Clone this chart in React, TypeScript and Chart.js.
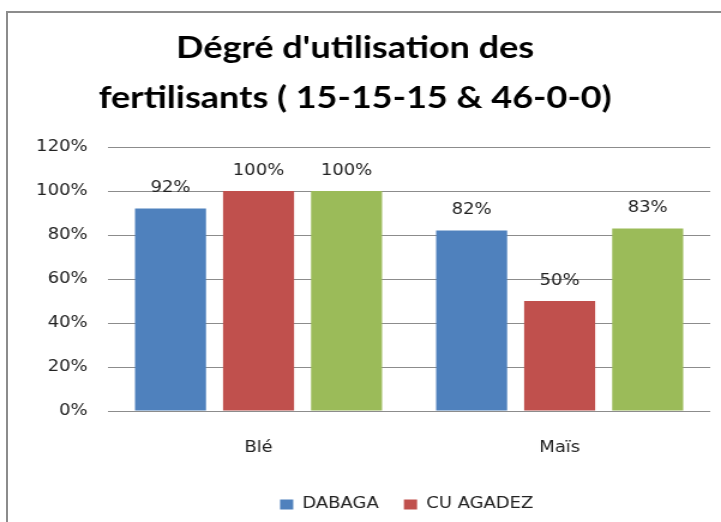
import React, { useEffect, useRef } from "react";
import { Chart, registerables } from "chart.js";

Chart.register(...registerables);

const titleLines = ["Dégré d'utilisation des", "fertilisants ( 15-15-15 & 46-0-0)"];
const categories = ["Blé", "Maïs"];
const seriesNames = ["DABAGA", "CU AGADEZ", ""];
const dabagaValues = [92, 82];
const cuAgadezValues = [100, 50];
const thirdValues = [100, 83];
const seriesColors = ["#4F81BD", "#C0504D", "#9BBB59"];
const yMin = 0;
const yMax = 120;
const yStep = 20;

const INTERNAL_W = 601;
const INTERNAL_H = 522;
const STRETCH = 721 / INTERNAL_W;

const valueLabels = {
  id: "valueLabels",
  afterDatasetsDraw(chart: any) {
    const ctx = chart.ctx;
    ctx.save();
    ctx.font = '15px "DejaVu Sans"';
    ctx.fillStyle = "#222";
    ctx.textAlign = "center";
    ctx.textBaseline = "middle";
    chart.data.datasets.forEach((ds: any, i: number) => {
      chart.getDatasetMeta(i).data.forEach((bar: any, j: number) => {
        ctx.fillText(ds.data[j] + "%", bar.x, bar.y - 20);
      });
    });
    ctx.restore();
  },
};

const legendShift = {
  id: "legendShift",
  afterLayout(chart: any) {
    const l = chart.legend;
    if (l) {
      l.left += 43;
      l.right += 43;
    }
  },
};

export default function App() {
  const ref = useRef<HTMLCanvasElement>(null);
  useEffect(() => {
    if (!ref.current) return;
    const values = [dabagaValues, cuAgadezValues, thirdValues];
    const chart = new Chart(ref.current, {
      type: "bar",
      data: {
        labels: categories,
        datasets: seriesNames.map((name, i) => ({
          label: name,
          data: values[i],
          backgroundColor: seriesColors[i],
          borderWidth: 0,
          categoryPercentage: 0.877,
          barPercentage: 0.807,
        })),
      },
      options: {
        responsive: false,
        animation: false,
        devicePixelRatio: 1,
        layout: { padding: { left: 0, right: 9, top: 0, bottom: 0 } },
        plugins: {
          title: {
            display: true,
            text: titleLines,
            color: "#000",
            font: { family: "Lato", weight: "bold", size: 30, lineHeight: "50px" },
            padding: { top: 23, bottom: 24 },
          },
          legend: {
            position: "bottom",
            labels: {
              boxWidth: 11,
              boxHeight: 10,
              padding: 21,
              color: "#222",
              font: { family: "DejaVu Sans", size: 15 },
              filter: (item: any) => item.text !== "",
            },
          },
          tooltip: { enabled: false },
        },
        scales: {
          x: {
            grid: { display: false },
            border: { display: false },
            ticks: { color: "#222", padding: 20, font: { family: "DejaVu Sans", size: 15 } },
            afterFit: (s: any) => {
              s.height = 65;
            },
          },
          y: {
            min: yMin,
            max: yMax,
            grid: { color: "#8c8c8c", lineWidth: 1, drawTicks: false },
            border: { display: false },
            ticks: {
              stepSize: yStep,
              padding: 17,
              color: "#222",
              font: { family: "DejaVu Sans", size: 15 },
              callback: (v: any) => v + "%",
            },
            afterFit: (s: any) => {
              s.width = 90;
            },
          },
        },
      },
      plugins: [valueLabels, legendShift],
    });
    return () => chart.destroy();
  }, []);

  return (
    <>
      <div
        style={{
          position: "fixed",
          left: 6,
          top: 11,
          width: 715,
          height: 511,
          boxSizing: "border-box",
          borderLeft: "2px solid #8c8c8c",
          borderTop: "2px solid #8c8c8c",
        }}
      />
      <div
        style={{
          position: "fixed",
          left: 0,
          top: 0,
          width: INTERNAL_W,
          height: INTERNAL_H,
          transform: `scaleX(${STRETCH})`,
          transformOrigin: "0 0",
        }}
      >
        <canvas ref={ref} width={INTERNAL_W} height={INTERNAL_H} />
      </div>
    </>
  );
}
